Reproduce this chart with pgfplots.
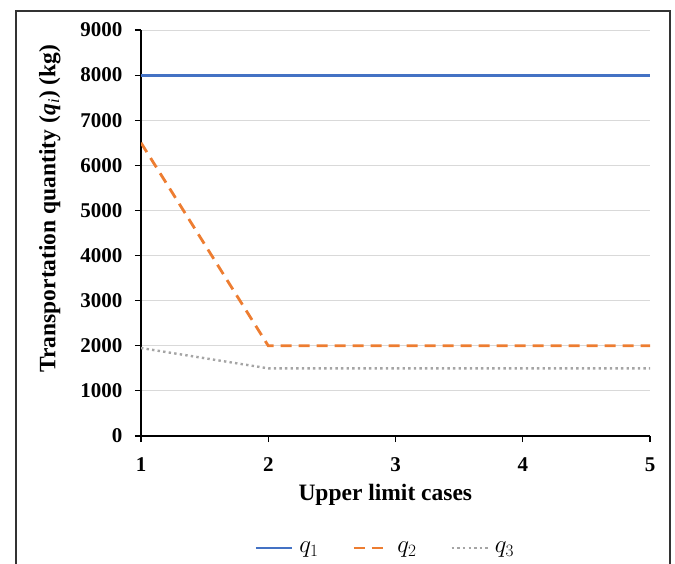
\documentclass[border=0pt]{standalone}
\usepackage{fontspec}
\setmainfont{Liberation Serif}
\usepackage{pgfplots}
\pgfplotsset{compat=1.18}

\definecolor{qblue}{HTML}{4472C4}
\definecolor{qorange}{HTML}{ED7D31}
\definecolor{qgray}{HTML}{A5A5A5}
\definecolor{gridgray}{HTML}{D9D9D9}

\begin{document}
\begin{tikzpicture}[x=1pt,y=1pt]
  \useasboundingbox (0,0) rectangle (675,563);
  % outer frame (open at the bottom)
  \draw[black!80, line width=1.2pt] (16,-2) -- (16,552) -- (670,552) -- (670,-2);
  \begin{axis}[
    at={(141pt,127pt)}, anchor=south west,
    scale only axis, width=509pt, height=406pt,
    xmin=1, xmax=5, ymin=0, ymax=9000,
    xtick={1,2,3,4,5}, ytick={0,1000,...,9000},
    axis x line*=bottom, axis y line*=left,
    axis line style={line width=1.4pt, -},
    tick style={black, line width=1.2pt},
    tick align=outside, major tick length=6pt,
    ymajorgrids, grid style={gridgray, line width=0.9pt},
    every tick label/.append style={font=\fontsize{21}{24}\selectfont\bfseries},
    xticklabel style={yshift=-12pt},
    yticklabel style={xshift=-9pt, /pgf/number format/.cd, fixed, set thousands separator={}},
    /pgf/number format/assume math mode=true,
    scaled y ticks=false,
    xlabel={\fontsize{23.5}{26}\selectfont\bfseries Upper limit cases},
    ylabel={\fontsize{23.5}{26}\selectfont\bfseries Transportation quantity (\textit{q}$_{\mathit{i}}$) (kg)},
    xlabel style={at={(axis description cs:0.48,-0.145)}, anchor=center},
    ylabel style={at={(axis description cs:-0.179,0.56)}, anchor=center},
    legend columns=3,
    legend style={draw=none, at={(0.48,-0.276)}, anchor=center,
      font=\fontsize{23}{26}\selectfont,
      /tikz/every odd column/.append style={column sep=4pt},
      /tikz/every even column/.append style={column sep=32pt}},
    legend image code/.code={\draw[#1] (0pt,0pt) -- (36pt,0pt);},
  ]
    \addplot[qblue, line width=2.8pt] coordinates {(1,8000) (2,8000) (3,8000) (4,8000) (5,8000)};
    \addlegendentry{$q_1$}
    \addplot[qorange, line width=2.8pt, dash pattern=on 11pt off 7pt] coordinates {(1,6500) (2,2000) (3,2000) (4,2000) (5,2000)};
    \addlegendentry{$q_2$}
    \addplot[qgray, line width=2.4pt, dash pattern=on 2.4pt off 3.2pt] coordinates {(1,1950) (2,1500) (3,1500) (4,1500) (5,1500)};
    \addlegendentry{$q_3$}
  \end{axis}
\end{tikzpicture}
\end{document}
